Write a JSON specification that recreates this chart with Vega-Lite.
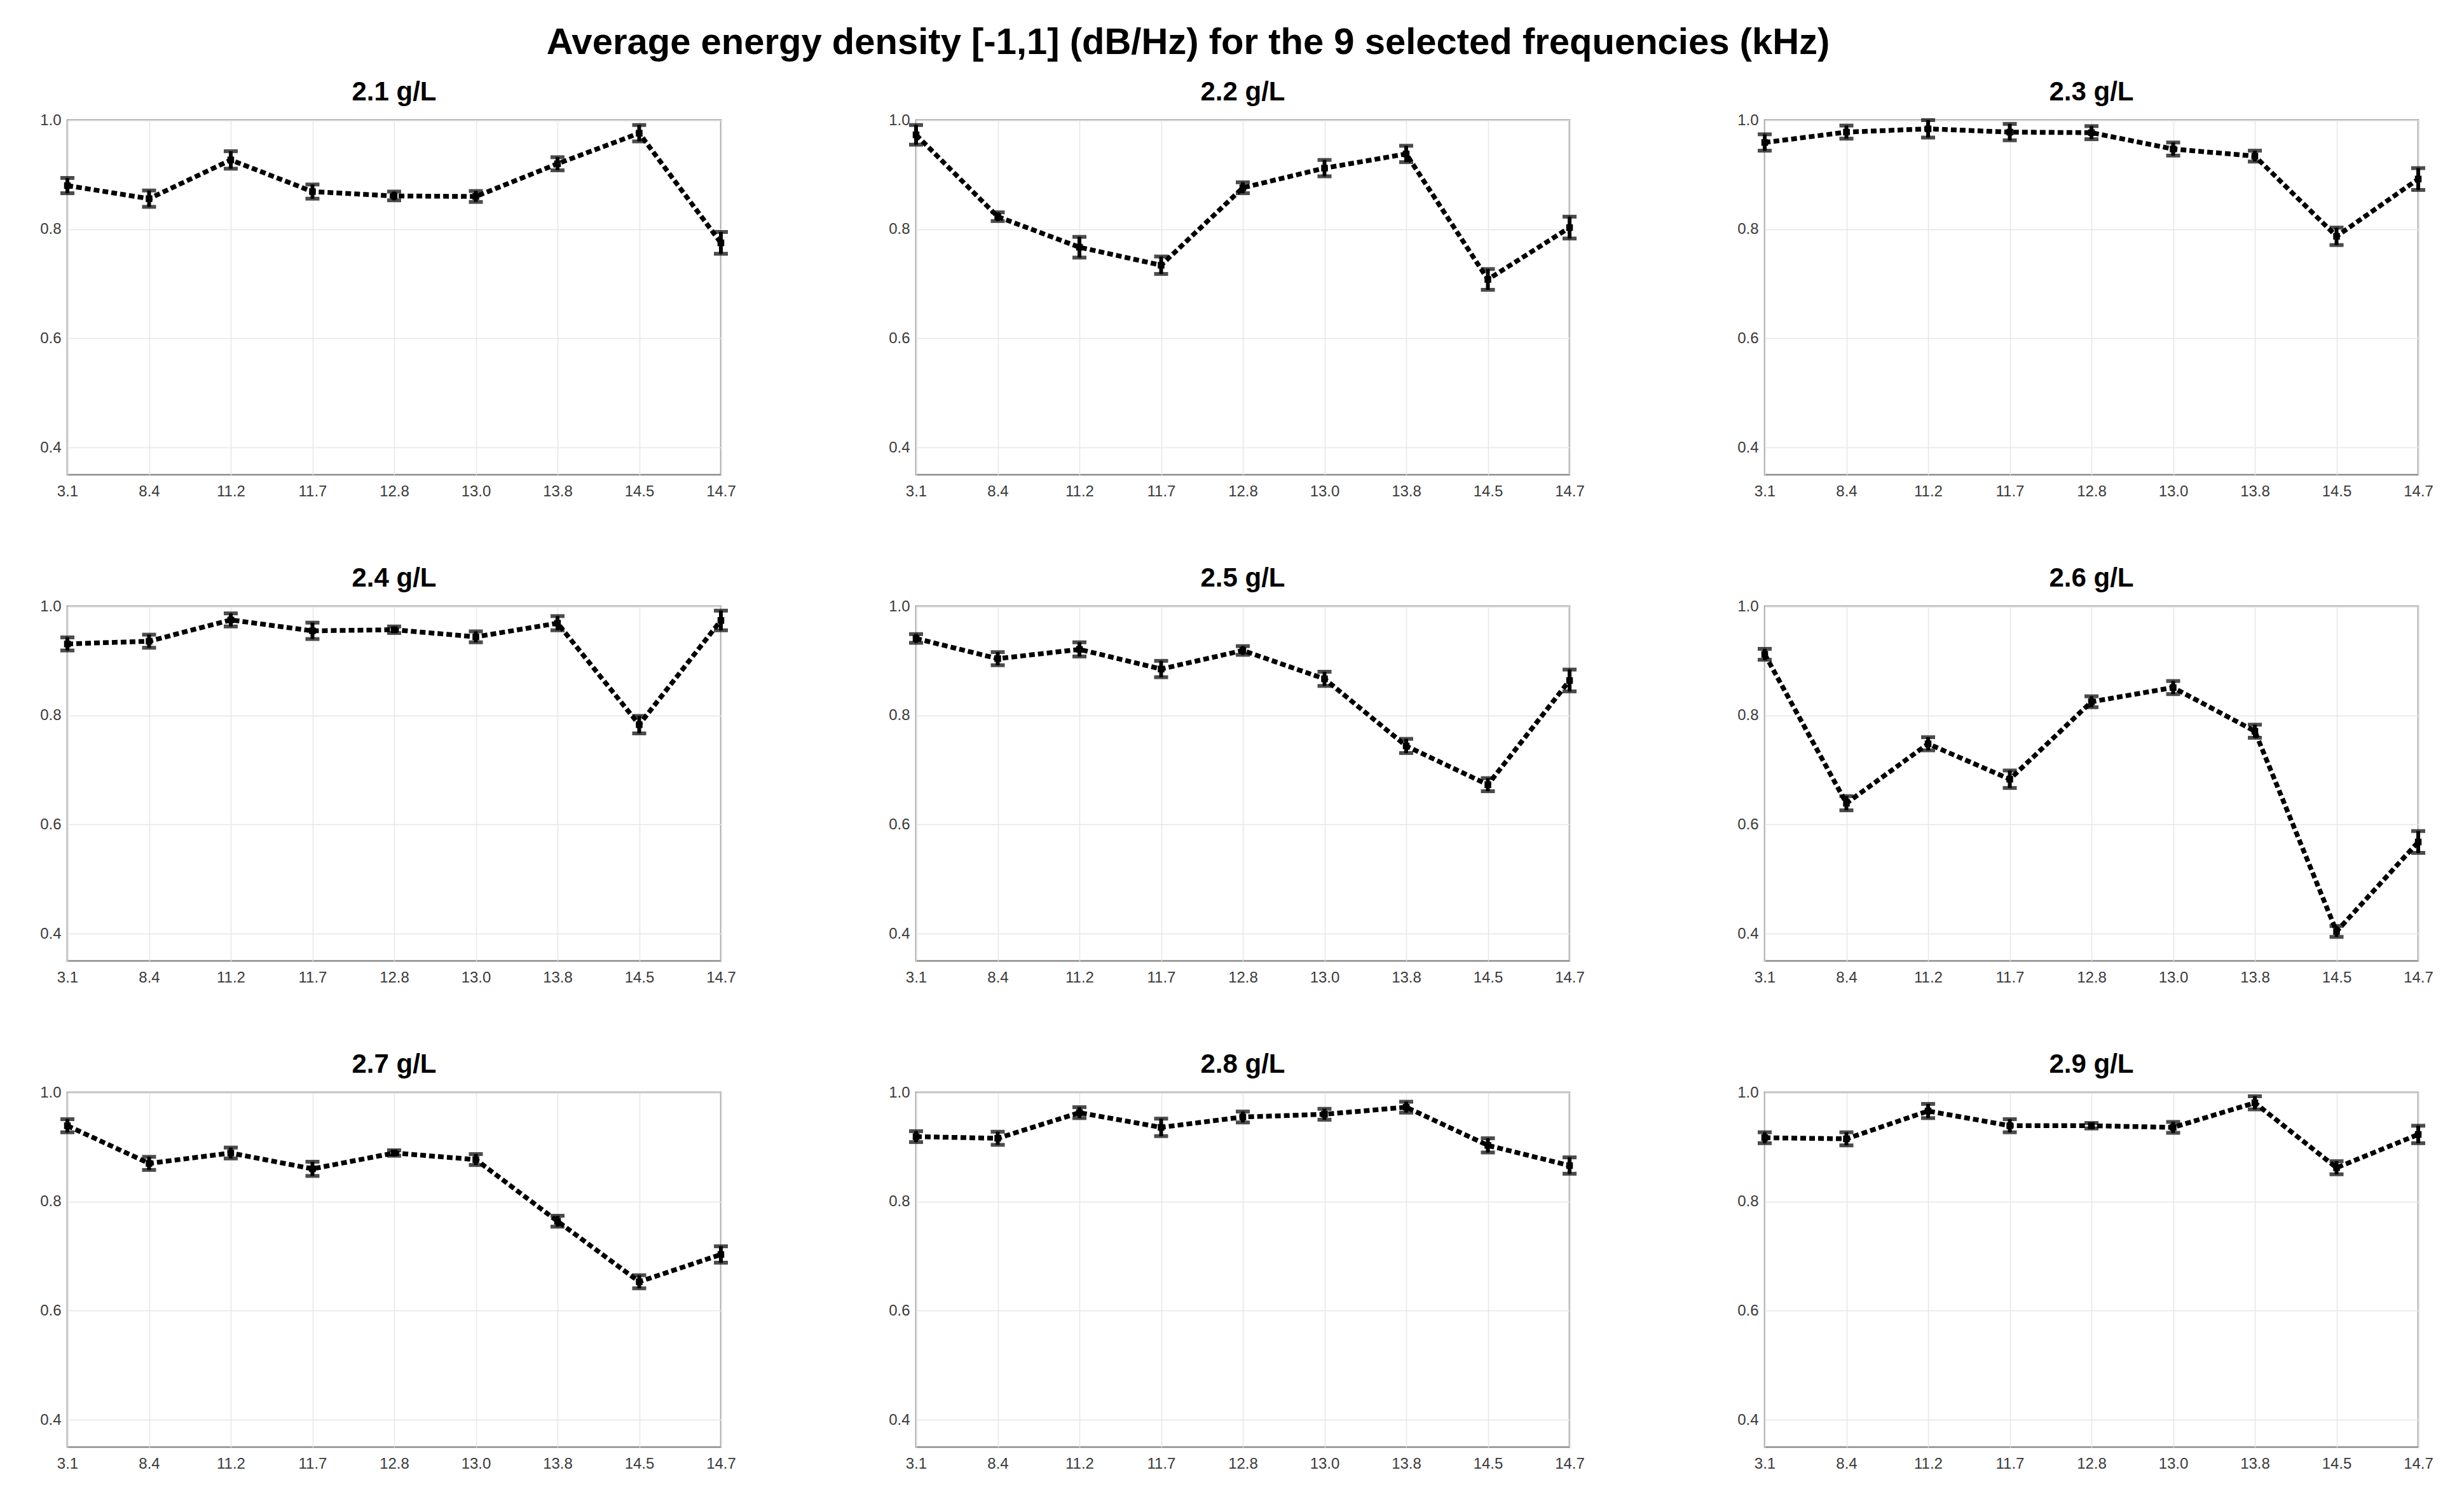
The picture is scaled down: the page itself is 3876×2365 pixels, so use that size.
{
  "$schema": "https://vega.github.io/schema/vega-lite/v6.json",
  "background": "white",
  "padding": {"left": 61, "top": 38, "right": 10, "bottom": 10},
  "title": {"text": "Average energy density [-1,1] (dB/Hz) for the 9 selected frequencies (kHz)", "fontSize": 58, "fontWeight": "bold", "font": "Liberation Sans", "color": "black", "anchor": "middle", "offset": 26, "dx": -76},
  "data": {"values": [
    {"conc": "2.1 g/L", "freq": "3.1", "mean": 0.880, "err": 0.014},
    {"conc": "2.1 g/L", "freq": "8.4", "mean": 0.856, "err": 0.015},
    {"conc": "2.1 g/L", "freq": "11.2", "mean": 0.927, "err": 0.016},
    {"conc": "2.1 g/L", "freq": "11.7", "mean": 0.869, "err": 0.013},
    {"conc": "2.1 g/L", "freq": "12.8", "mean": 0.861, "err": 0.008},
    {"conc": "2.1 g/L", "freq": "13.0", "mean": 0.860, "err": 0.010},
    {"conc": "2.1 g/L", "freq": "13.8", "mean": 0.920, "err": 0.012},
    {"conc": "2.1 g/L", "freq": "14.5", "mean": 0.976, "err": 0.015},
    {"conc": "2.1 g/L", "freq": "14.7", "mean": 0.775, "err": 0.020},
    {"conc": "2.2 g/L", "freq": "3.1", "mean": 0.973, "err": 0.018},
    {"conc": "2.2 g/L", "freq": "8.4", "mean": 0.823, "err": 0.008},
    {"conc": "2.2 g/L", "freq": "11.2", "mean": 0.767, "err": 0.019},
    {"conc": "2.2 g/L", "freq": "11.7", "mean": 0.734, "err": 0.016},
    {"conc": "2.2 g/L", "freq": "12.8", "mean": 0.876, "err": 0.010},
    {"conc": "2.2 g/L", "freq": "13.0", "mean": 0.912, "err": 0.015},
    {"conc": "2.2 g/L", "freq": "13.8", "mean": 0.938, "err": 0.015},
    {"conc": "2.2 g/L", "freq": "14.5", "mean": 0.708, "err": 0.019},
    {"conc": "2.2 g/L", "freq": "14.7", "mean": 0.803, "err": 0.020},
    {"conc": "2.3 g/L", "freq": "3.1", "mean": 0.959, "err": 0.015},
    {"conc": "2.3 g/L", "freq": "8.4", "mean": 0.978, "err": 0.012},
    {"conc": "2.3 g/L", "freq": "11.2", "mean": 0.984, "err": 0.016},
    {"conc": "2.3 g/L", "freq": "11.7", "mean": 0.978, "err": 0.015},
    {"conc": "2.3 g/L", "freq": "12.8", "mean": 0.977, "err": 0.012},
    {"conc": "2.3 g/L", "freq": "13.0", "mean": 0.947, "err": 0.012},
    {"conc": "2.3 g/L", "freq": "13.8", "mean": 0.934, "err": 0.010},
    {"conc": "2.3 g/L", "freq": "14.5", "mean": 0.787, "err": 0.016},
    {"conc": "2.3 g/L", "freq": "14.7", "mean": 0.892, "err": 0.020},
    {"conc": "2.4 g/L", "freq": "3.1", "mean": 0.931, "err": 0.012},
    {"conc": "2.4 g/L", "freq": "8.4", "mean": 0.936, "err": 0.012},
    {"conc": "2.4 g/L", "freq": "11.2", "mean": 0.975, "err": 0.012},
    {"conc": "2.4 g/L", "freq": "11.7", "mean": 0.955, "err": 0.015},
    {"conc": "2.4 g/L", "freq": "12.8", "mean": 0.957, "err": 0.006},
    {"conc": "2.4 g/L", "freq": "13.0", "mean": 0.944, "err": 0.010},
    {"conc": "2.4 g/L", "freq": "13.8", "mean": 0.969, "err": 0.013},
    {"conc": "2.4 g/L", "freq": "14.5", "mean": 0.783, "err": 0.016},
    {"conc": "2.4 g/L", "freq": "14.7", "mean": 0.974, "err": 0.018},
    {"conc": "2.5 g/L", "freq": "3.1", "mean": 0.941, "err": 0.008},
    {"conc": "2.5 g/L", "freq": "8.4", "mean": 0.904, "err": 0.012},
    {"conc": "2.5 g/L", "freq": "11.2", "mean": 0.921, "err": 0.013},
    {"conc": "2.5 g/L", "freq": "11.7", "mean": 0.885, "err": 0.015},
    {"conc": "2.5 g/L", "freq": "12.8", "mean": 0.919, "err": 0.008},
    {"conc": "2.5 g/L", "freq": "13.0", "mean": 0.867, "err": 0.013},
    {"conc": "2.5 g/L", "freq": "13.8", "mean": 0.744, "err": 0.013},
    {"conc": "2.5 g/L", "freq": "14.5", "mean": 0.673, "err": 0.012},
    {"conc": "2.5 g/L", "freq": "14.7", "mean": 0.864, "err": 0.020},
    {"conc": "2.6 g/L", "freq": "3.1", "mean": 0.912, "err": 0.010},
    {"conc": "2.6 g/L", "freq": "8.4", "mean": 0.639, "err": 0.013},
    {"conc": "2.6 g/L", "freq": "11.2", "mean": 0.748, "err": 0.012},
    {"conc": "2.6 g/L", "freq": "11.7", "mean": 0.683, "err": 0.016},
    {"conc": "2.6 g/L", "freq": "12.8", "mean": 0.825, "err": 0.010},
    {"conc": "2.6 g/L", "freq": "13.0", "mean": 0.851, "err": 0.012},
    {"conc": "2.6 g/L", "freq": "13.8", "mean": 0.771, "err": 0.012},
    {"conc": "2.6 g/L", "freq": "14.5", "mean": 0.404, "err": 0.010},
    {"conc": "2.6 g/L", "freq": "14.7", "mean": 0.568, "err": 0.020},
    {"conc": "2.7 g/L", "freq": "3.1", "mean": 0.939, "err": 0.012},
    {"conc": "2.7 g/L", "freq": "8.4", "mean": 0.870, "err": 0.012},
    {"conc": "2.7 g/L", "freq": "11.2", "mean": 0.889, "err": 0.010},
    {"conc": "2.7 g/L", "freq": "11.7", "mean": 0.860, "err": 0.013},
    {"conc": "2.7 g/L", "freq": "12.8", "mean": 0.889, "err": 0.005},
    {"conc": "2.7 g/L", "freq": "13.0", "mean": 0.877, "err": 0.010},
    {"conc": "2.7 g/L", "freq": "13.8", "mean": 0.764, "err": 0.010},
    {"conc": "2.7 g/L", "freq": "14.5", "mean": 0.653, "err": 0.012},
    {"conc": "2.7 g/L", "freq": "14.7", "mean": 0.703, "err": 0.015},
    {"conc": "2.8 g/L", "freq": "3.1", "mean": 0.919, "err": 0.010},
    {"conc": "2.8 g/L", "freq": "8.4", "mean": 0.916, "err": 0.012},
    {"conc": "2.8 g/L", "freq": "11.2", "mean": 0.963, "err": 0.010},
    {"conc": "2.8 g/L", "freq": "11.7", "mean": 0.936, "err": 0.016},
    {"conc": "2.8 g/L", "freq": "12.8", "mean": 0.955, "err": 0.010},
    {"conc": "2.8 g/L", "freq": "13.0", "mean": 0.960, "err": 0.010},
    {"conc": "2.8 g/L", "freq": "13.8", "mean": 0.973, "err": 0.010},
    {"conc": "2.8 g/L", "freq": "14.5", "mean": 0.903, "err": 0.013},
    {"conc": "2.8 g/L", "freq": "14.7", "mean": 0.866, "err": 0.015},
    {"conc": "2.9 g/L", "freq": "3.1", "mean": 0.917, "err": 0.010},
    {"conc": "2.9 g/L", "freq": "8.4", "mean": 0.915, "err": 0.012},
    {"conc": "2.9 g/L", "freq": "11.2", "mean": 0.966, "err": 0.013},
    {"conc": "2.9 g/L", "freq": "11.7", "mean": 0.939, "err": 0.012},
    {"conc": "2.9 g/L", "freq": "12.8", "mean": 0.939, "err": 0.005},
    {"conc": "2.9 g/L", "freq": "13.0", "mean": 0.936, "err": 0.010},
    {"conc": "2.9 g/L", "freq": "13.8", "mean": 0.981, "err": 0.012},
    {"conc": "2.9 g/L", "freq": "14.5", "mean": 0.862, "err": 0.012},
    {"conc": "2.9 g/L", "freq": "14.7", "mean": 0.923, "err": 0.016}
  ]},
  "facet": {"field": "conc", "type": "nominal", "header": {"title": null, "labelFontSize": 42, "labelFontWeight": "bold", "labelFont": "Liberation Sans", "labelColor": "black", "labelPadding": 10}},
  "columns": 3,
  "spacing": {"column": 237, "row": 100},
  "resolve": {"axis": {"x": "independent", "y": "independent"}},
  "spec": {
    "width": 1028,
    "height": 558,
    "encoding": {
      "x": {"field": "freq", "type": "ordinal", "sort": ["3.1", "8.4", "11.2", "11.7", "12.8", "13.0", "13.8", "14.5", "14.7"],
        "scale": {"type": "point", "padding": 0},
        "axis": {"title": null, "labelAngle": 0, "labelFontSize": 24, "labelFont": "Liberation Sans", "labelColor": "#3a3a3a", "grid": true, "gridColor": "#e6e6e6", "gridWidth": 1.5, "domain": false, "ticks": false, "labelPadding": 14}}
    },
    "layer": [
      {
        "mark": {"type": "line", "color": "black", "strokeWidth": 7.5, "strokeDash": [9, 5], "strokeCap": "butt"},
        "encoding": {
          "y": {"field": "mean", "type": "quantitative", "scale": {"domain": [0.35, 1.0], "nice": false, "zero": false},
            "axis": {"title": null, "values": [0.4, 0.6, 0.8, 1.0], "format": ".1f", "labelFontSize": 24, "labelFont": "Liberation Sans", "labelColor": "#3a3a3a", "grid": true, "gridColor": "#e6e6e6", "gridWidth": 1.5, "domain": false, "ticks": false, "labelPadding": 10}}
        }
      },
      {
        "mark": {"type": "errorbar", "color": "black", "ticks": {"size": 22, "thickness": 6}, "rule": {"strokeWidth": 6}},
        "encoding": {
          "y": {"field": "mean", "type": "quantitative"},
          "yError": {"field": "err"}
        }
      },
      {
        "mark": {"type": "point", "shape": "square", "filled": true, "color": "black", "size": 110, "opacity": 1},
        "encoding": {
          "y": {"field": "mean", "type": "quantitative"}
        }
      }
    ]
  },
  "config": {
    "view": {"stroke": "#8a8a8a", "strokeWidth": 2.5},
    "font": "Liberation Sans"
  }
}
